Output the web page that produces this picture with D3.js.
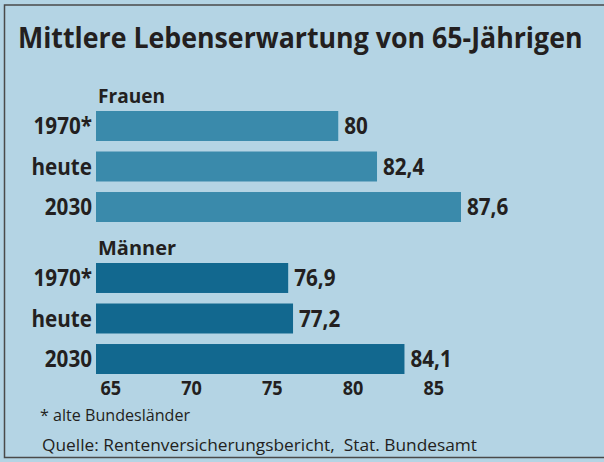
<!DOCTYPE html>
<html>
<head>
<meta charset="utf-8">
<script src="https://cdn.jsdelivr.net/npm/d3@7"></script>
<style>
  body { margin: 0; background: #b4d4e4; }
  svg text { font-family: "Open Sans", sans-serif; fill: #231f20; }
</style>
</head>
<body>
<div id="chart"></div>
<script>
// data
var groups = ["Frauen", "Männer"]
var categories = ["1970*", "heute", "2030"]
var frauenValues = [80, 82.4, 87.6]
var maennerValues = [76.9, 77.2, 84.1]
var valueLabels = [["80", "82,4", "87,6"], ["76,9", "77,2", "84,1"]]
var tickValues = [65, 70, 75, 80, 85]

var width = 604, height = 462
var colors = ["#3a8aab", "#12688f"]
var groupTop = [111, 263]
var groupLabelWidth = [67, 78]

var svg = d3.select("#chart")
  .append("svg")
    .attr("width", width)
    .attr("height", height)

svg.append("rect")
  .attr("width", width).attr("height", height)
  .attr("fill", "#b4d4e4")

// frame
svg.append("path")
  .attr("d", "M610,5 H4.5 V457.5 H610")
  .attr("fill", "none")
  .attr("stroke", "#4a4a4a")
  .attr("stroke-width", 1.5)

// squeeze a text to a given pixel width
function fit(sel, w) {
  sel.attr("textLength", w).attr("lengthAdjust", "spacingAndGlyphs")
}
function squeeze(sel, k) {
  sel.each(function() {
    var l = this.getComputedTextLength()
    d3.select(this).attr("textLength", l * k).attr("lengthAdjust", "spacingAndGlyphs")
  })
}

// title: scaled horizontally so the whole box stays inside
var title = svg.append("text")
  .attr("x", 0).attr("y", 0)
  .style("font-size", "29px").style("font-weight", "bold")
  .text("Mittlere Lebenserwartung von 65-Jährigen")
var tl = title.node().getComputedTextLength()
title.attr("transform", "translate(18,48) scale(" + (565 / tl) + ",1)")

var x = d3.scaleLinear().domain([65, 90]).range([96, 499.75])

var y = d3.scaleBand()
  .domain(categories)
  .range([0, 111])
  .paddingInner(0.26)

var allValues = [frauenValues, maennerValues]

groups.forEach(function(g, gi) {
  var gr = svg.append("g").attr("transform", "translate(0," + groupTop[gi] + ")")
  var rows = categories.map(function(c, i) {
    return {cat: c, value: allValues[gi][i], label: valueLabels[gi][i]}
  })

  gr.append("text")
    .attr("x", 98).attr("y", -8)
    .style("font-size", "20px").style("font-weight", "bold")
    .text(g)
    .call(fit, groupLabelWidth[gi])

  gr.selectAll("rect.bar")
    .data(rows)
    .enter()
    .append("rect")
      .attr("class", "bar")
      .attr("x", x(65))
      .attr("y", function(d) { return y(d.cat) })
      .attr("width", function(d) { return x(d.value) - x(65) })
      .attr("height", y.bandwidth())
      .attr("fill", colors[gi])

  gr.selectAll("text.cat")
    .data(rows)
    .enter()
    .append("text")
      .attr("class", "cat")
      .attr("x", 92)
      .attr("y", function(d) { return y(d.cat) + y.bandwidth() / 2 + 8 })
      .attr("text-anchor", "end")
      .style("font-size", "24px").style("font-weight", "bold")
      .text(function(d) { return d.cat })
      .call(squeeze, 0.86)

  gr.selectAll("text.val")
    .data(rows)
    .enter()
    .append("text")
      .attr("class", "val")
      .attr("x", function(d) { return x(d.value) + 6 })
      .attr("y", function(d) { return y(d.cat) + y.bandwidth() / 2 + 8 })
      .style("font-size", "24px").style("font-weight", "bold")
      .text(function(d) { return d.label })
      .call(squeeze, 0.86)
})

// x axis, labels start just right of the tick
var axis = svg.append("g")
  .attr("transform", "translate(0,395)")
  .call(d3.axisBottom(x).tickValues(tickValues).tickSize(0))
axis.select(".domain").remove()
axis.selectAll("text")
  .attr("x", 4).attr("y", 0).attr("dy", 0)
  .attr("text-anchor", "start")
  .style("font-family", "'Open Sans', sans-serif")
  .style("font-size", "19px").style("font-weight", "bold")
  .attr("fill", "#231f20")
  .call(squeeze, 0.95)

svg.append("text")
  .attr("x", 40).attr("y", 421)
  .style("font-size", "16px")
  .text("* alte Bundesländer")
  .call(fit, 150)

svg.append("text")
  .attr("x", 42).attr("y", 451)
  .style("font-size", "16px")
  .style("white-space", "pre")
  .text("Quelle: Rentenversicherungsbericht,  Stat. Bundesamt")
  .call(fit, 435)
</script>
</body>
</html>
